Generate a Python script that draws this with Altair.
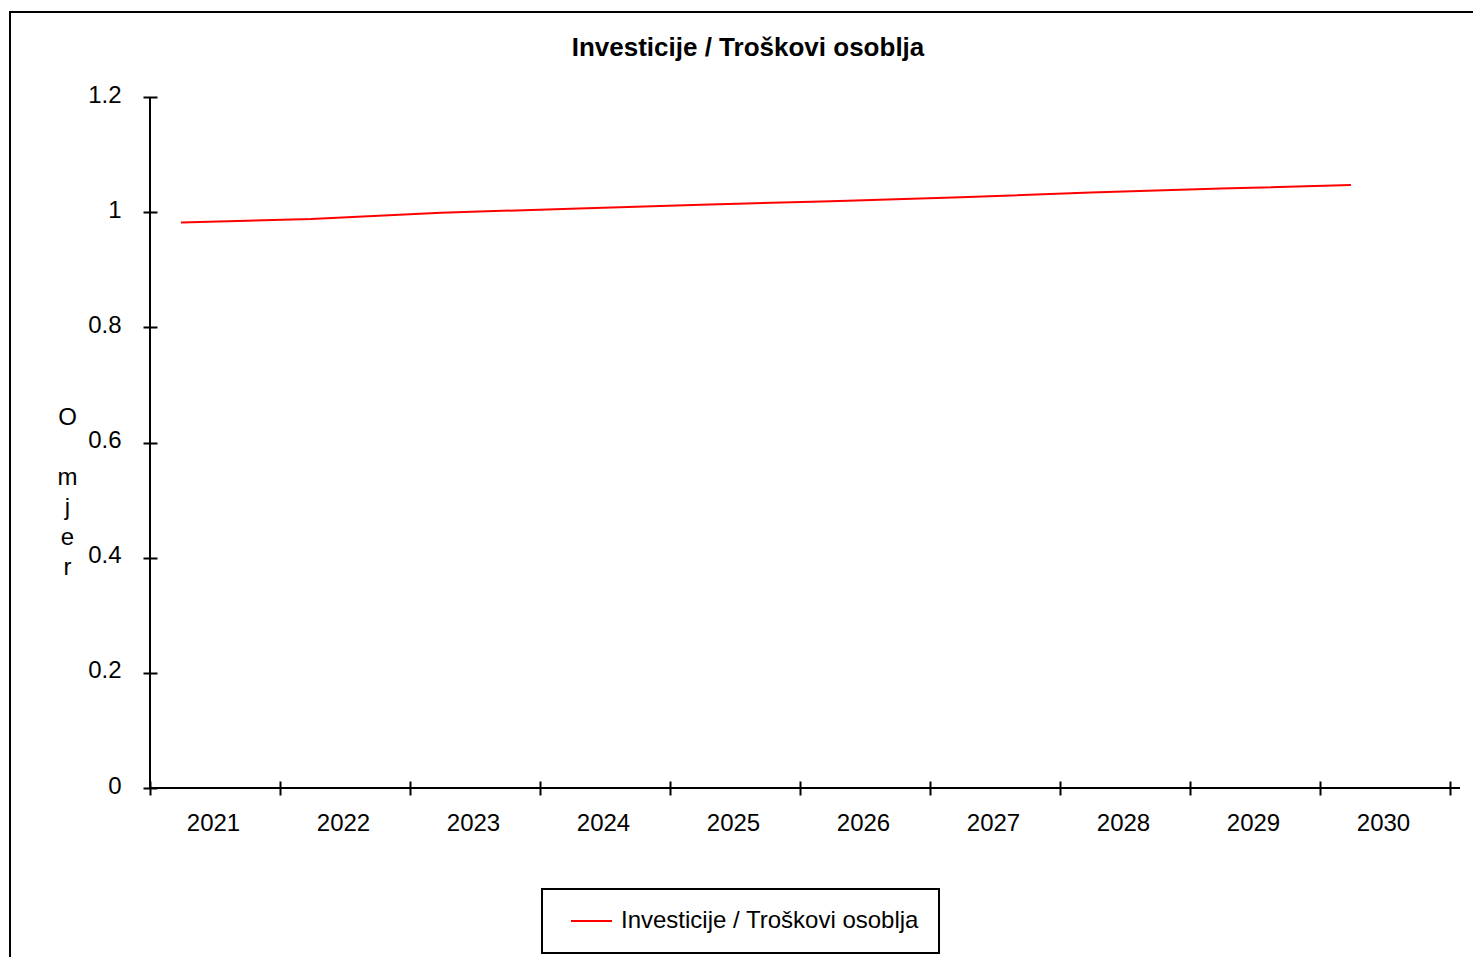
import altair as alt
import pandas as pd

years = ["2021", "2022", "2023", "2024", "2025", "2026", "2027", "2028", "2029", "2030"]
values = [0.982, 0.988, 0.999, 1.006, 1.013, 1.019, 1.026, 1.034, 1.041, 1.047]
series_name = "Investicije / Troškovi osoblja"
y_ticks = [0, 0.2, 0.4, 0.6, 0.8, 1, 1.2]
y_title_lines = ["O", "\u200b", "m", "j", "e", "r"]

df = pd.DataFrame({"year": years, "value": values, "series": [series_name] * len(years)})

FONT = "Liberation Sans"
W, H = 1310, 691

line = alt.Chart(df).mark_line(strokeWidth=2).encode(
    x=alt.X(
        "year:O",
        bandPosition=0.238,
        scale=alt.Scale(paddingInner=0, paddingOuter=0.0385, align=0),
        axis=alt.Axis(
            title=None, labelAngle=0, tickBand="extent", domain=False, grid=False,
            offset=-7, tickSize=14, tickWidth=2, tickColor="black",
            labelFont=FONT, labelFontSize=24, labelColor="black", labelPadding=16,
            labelOffset=-2,
        ),
    ),
    y=alt.Y(
        "value:Q",
        scale=alt.Scale(domain=[0, 1.2], nice=False),
        axis=alt.Axis(
            values=y_ticks, format="~g", domain=False, grid=False,
            offset=-7, tickSize=14, tickWidth=2, tickColor="black",
            labelFont=FONT, labelFontSize=24, labelColor="black",
            labelPadding=22, labelOffset=-2,
            title=y_title_lines, titleAngle=0, titleX=-90, titleY=327,
            titleAlign="center", titleBaseline="alphabetic", titleLineHeight=30,
            titleFont=FONT, titleFontSize=24, titleFontWeight="normal", titleColor="black",
        ),
    ),
    color=alt.Color(
        "series:N",
        scale=alt.Scale(range=["#FF0000"]),
        legend=alt.Legend(
            title=None, orient="none", legendX=392, legendY=792,
            strokeColor="black", padding=20, clipHeight=24,
            symbolType="stroke", symbolSize=1681, symbolStrokeWidth=2, symbolOffset=8,
            labelFont=FONT, labelFontSize=24, labelColor="black", labelOffset=8,
            labelLimit=500,
        ),
    ),
)

one = alt.Data(values=[{}])
border = alt.Chart(one).mark_rect(fillOpacity=0, stroke="black", strokeWidth=2).encode(
    x=alt.value(-140), x2=alt.value(1400), y=alt.value(-85), y2=alt.value(900)
)
ydom = alt.Chart(one).mark_rule(color="black", strokeWidth=2).encode(
    x=alt.value(0), y=alt.value(0), y2=alt.value(H)
)
xdom = alt.Chart(one).mark_rule(color="black", strokeWidth=2).encode(
    x=alt.value(0), x2=alt.value(W), y=alt.value(H)
)

chart = alt.layer(border, line, ydom, xdom).properties(
    width=W,
    height=H,
    title=alt.Title(
        series_name, font=FONT, fontSize=26, fontWeight="bold", color="black",
        anchor="middle", frame="group", dx=-57, dy=71, offset=0, baseline="alphabetic",
    ),
    autosize=alt.AutoSizeParams(type="none"),
    padding={"left": 142, "top": 89, "right": 13, "bottom": 169},
).configure_view(stroke="transparent").configure_legend(strokeWidth=2)

chart.save("out.html", embed_options={"renderer": "svg", "actions": False})
